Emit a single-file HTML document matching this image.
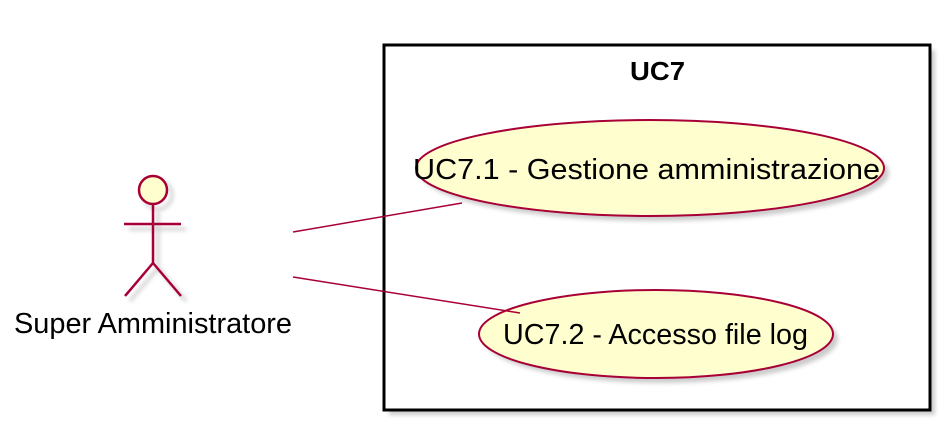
<!DOCTYPE html>
<html><head><meta charset="utf-8"><style>body{margin:0;background:#fff}svg{display:block}</style></head>
<body>
<svg width="952" height="433" xmlns="http://www.w3.org/2000/svg" font-family="Liberation Sans, sans-serif">
<defs><filter id="s" x="-10%" y="-10%" width="130%" height="130%"><feGaussianBlur stdDeviation="2"/></filter></defs>
<rect x="389" y="50" width="546" height="365" fill="#999" opacity="0.5" filter="url(#s)"/>
<rect x="384" y="45" width="546" height="365" fill="#fff" stroke="#000" stroke-width="3"/>
<text x="630" y="80" font-size="26" font-weight="bold" textLength="55" lengthAdjust="spacingAndGlyphs">UC7</text>
<g stroke="#aaa" fill="none" stroke-width="3" opacity="0.6" filter="url(#s)">
<circle cx="158" cy="195" r="14"/><line x1="158" y1="212" x2="158" y2="268"/><line x1="129" y1="229" x2="186" y2="229"/>
<polyline points="130,301 158,268 186,301"/></g>
<circle cx="153" cy="190" r="14" fill="#fefece" stroke="#a80036" stroke-width="2.5"/>
<g stroke="#a80036" stroke-width="2.5" fill="none">
<line x1="153" y1="204" x2="153" y2="263"/><line x1="124" y1="224" x2="181" y2="224"/>
<polyline points="125,296 153,263 181,296"/></g>
<text x="14" y="333" font-size="29" textLength="278" lengthAdjust="spacingAndGlyphs">Super Amministratore</text>
<ellipse cx="655" cy="173" rx="234" ry="48" fill="#999" opacity="0.5" filter="url(#s)"/>
<ellipse cx="650" cy="168" rx="234" ry="48" fill="#fefece" stroke="#a80036" stroke-width="2"/>
<text x="413" y="179" font-size="29" textLength="467" lengthAdjust="spacingAndGlyphs">UC7.1 - Gestione amministrazione</text>
<ellipse cx="661" cy="339" rx="177" ry="44" fill="#999" opacity="0.5" filter="url(#s)"/>
<ellipse cx="656" cy="334" rx="177" ry="44" fill="#fefece" stroke="#a80036" stroke-width="2"/>
<text x="503" y="344" font-size="29" textLength="305" lengthAdjust="spacingAndGlyphs">UC7.2 - Accesso file log</text>
<line x1="293" y1="232" x2="462" y2="203" stroke="#a80036" stroke-width="1.5"/>
<line x1="293" y1="277" x2="520" y2="313" stroke="#a80036" stroke-width="1.5"/>
</svg>
</body></html>
